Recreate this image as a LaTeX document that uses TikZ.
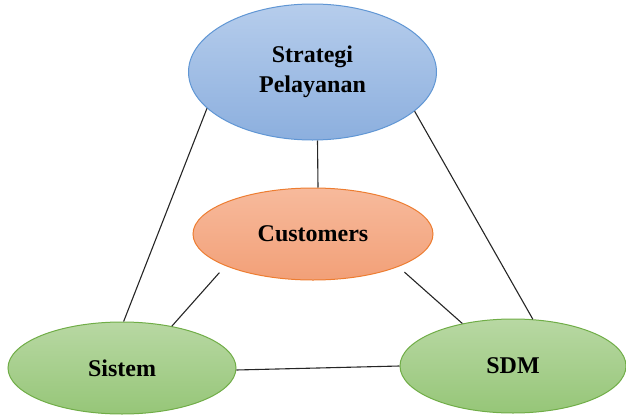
\documentclass[tikz,border=0pt]{standalone}
\usepackage{fontspec}
\setmainfont{Liberation Serif}
\usetikzlibrary{shapes.geometric}
\definecolor{bluetop}{RGB}{182,205,236}
\definecolor{bluebot}{RGB}{140,175,222}
\definecolor{blueline}{RGB}{96,150,212}
\definecolor{orangetop}{RGB}{247,186,156}
\definecolor{orangebot}{RGB}{242,160,120}
\definecolor{orangeline}{RGB}{237,125,49}
\definecolor{greentop}{RGB}{184,216,163}
\definecolor{greenbot}{RGB}{150,198,120}
\definecolor{greenline}{RGB}{112,173,71}
\begin{document}
\begin{tikzpicture}[x=1pt,y=-1pt,
  oval/.style={ellipse, draw, line width=1pt, inner sep=0pt,
    font=\bfseries\fontsize{24}{30}\selectfont, align=center},
  blueoval/.style={oval, top color=bluetop, bottom color=bluebot, draw=blueline},
  orangeoval/.style={oval, top color=orangetop, bottom color=orangebot, draw=orangeline},
  greenoval/.style={oval, top color=greentop, bottom color=greenbot, draw=greenline},
  link/.style={line width=1.1pt, draw=black!85}]
\useasboundingbox (0,0) rectangle (626,415);
\node[blueoval, minimum width=248pt, minimum height=136pt] (S) at (312.5,72) {Strategi\\Pelayanan};
\node[orangeoval, minimum width=240pt, minimum height=92pt] (C) at (313,234) {Customers};
\node[greenoval, minimum width=228pt, minimum height=92pt] (I) at (122,368) {Sistem};
\node[greenoval, minimum width=226pt, minimum height=94pt] (D) at (513,366) {SDM};
\draw[link] (S.199) -- (I.88);
\draw[link] (S.339) -- (D.67);
\draw[link] ([xshift=5pt]S.south) -- ([xshift=5pt]C.north);
\draw[link, shorten <=9pt] (C.200) -- (I.40);
\draw[link, shorten <=8pt] (C.339) -- (D.140);
\draw[link] (I.359) -- (D.180);
\end{tikzpicture}
\end{document}
